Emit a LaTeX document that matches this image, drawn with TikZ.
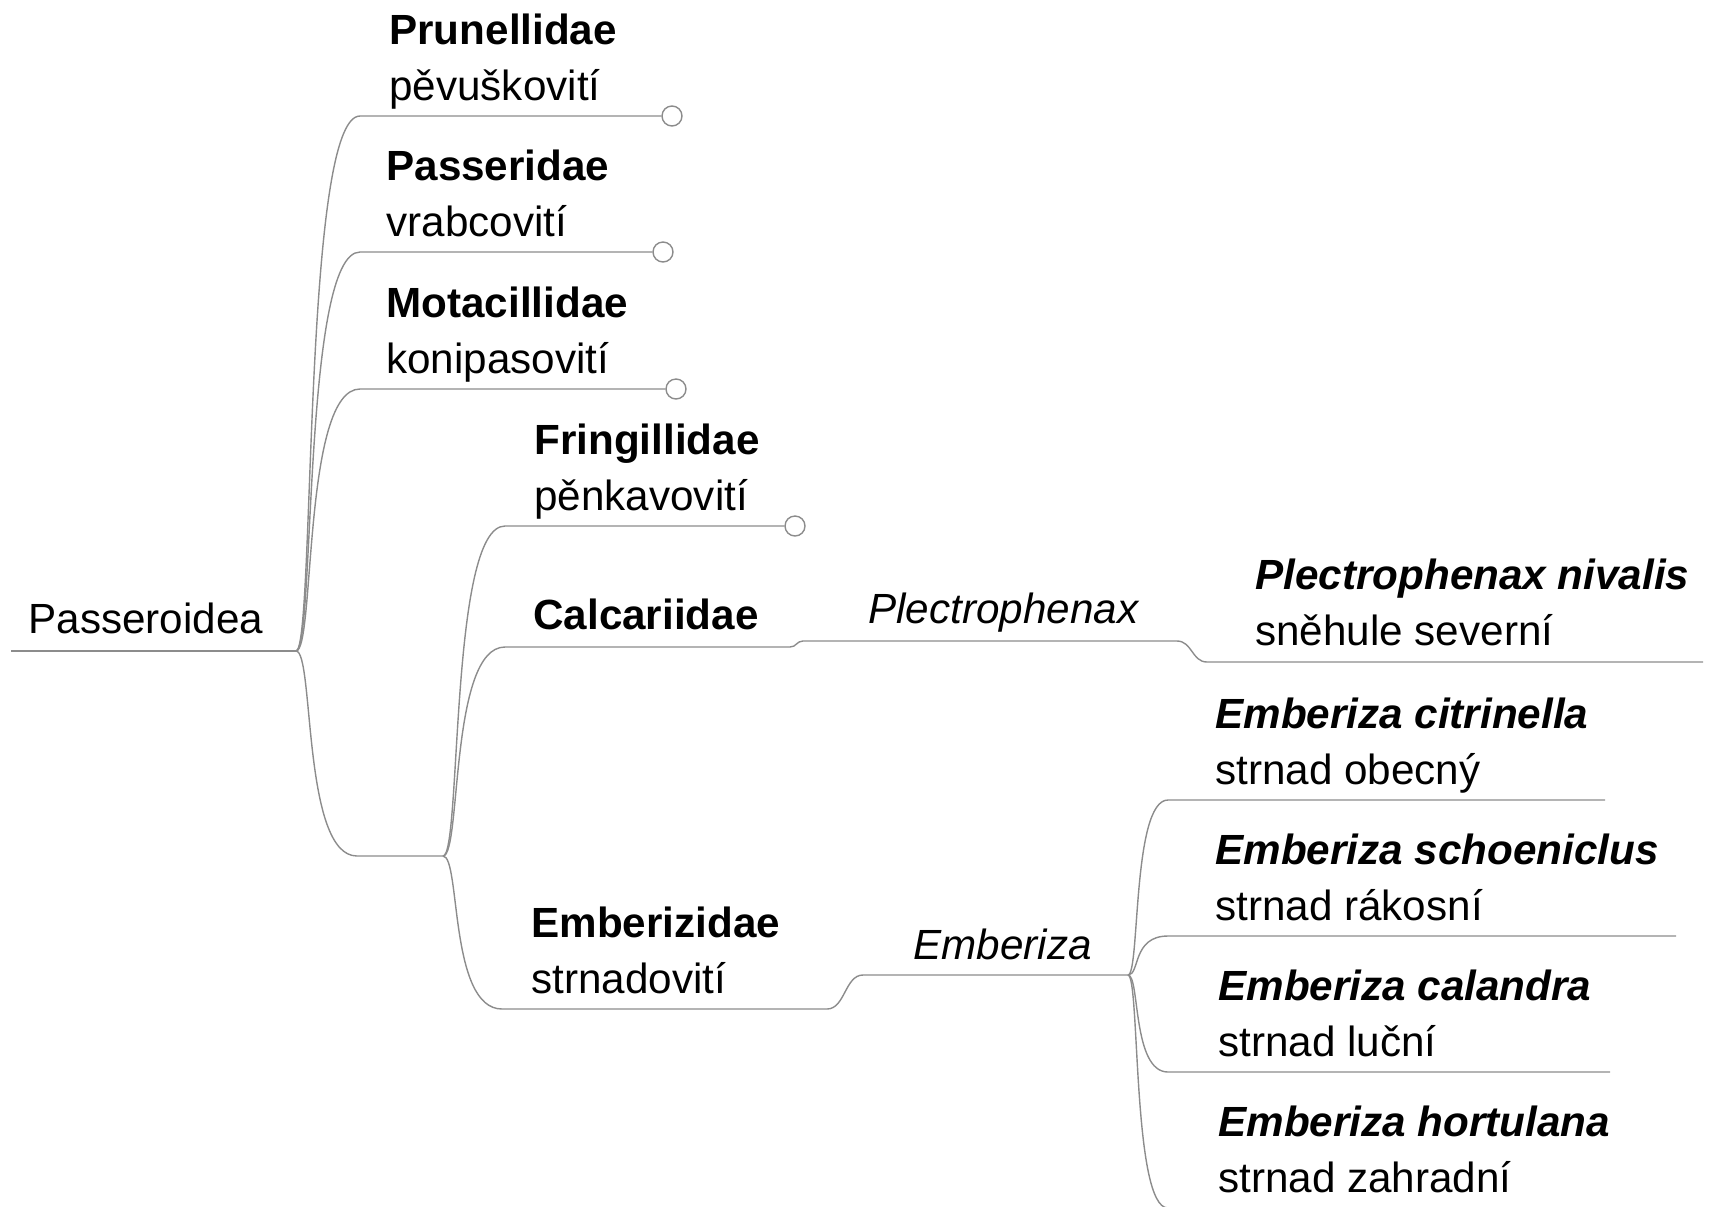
\documentclass[tikz,border=0pt]{standalone}
\usepackage{fontspec}
\setmainfont{Liberation Sans}
\usetikzlibrary{positioning}
\definecolor{branchgray}{RGB}{140,140,140}

\begin{document}
\begin{tikzpicture}[
    x=0.5pt, y=-0.5pt,
    taxon/.style={anchor=base west, inner sep=0pt, align=left, font=\fontsize{21.1}{27.75}\selectfont},
    twig/.style={draw=branchgray, line width=0.7pt},
    leafcirc/.style={circle, draw=branchgray, line width=0.7pt, fill=white, inner sep=0pt, minimum size=10pt},
    fork/.style={to path={.. controls +(0.3*#1,0) and +(-0.9*#1,0) .. (\tikztotarget)}},
    jog/.style={to path={.. controls +(0.5*#1,0) and +(-0.5*#1,0) .. (\tikztotarget)}}
]
    \useasboundingbox (0,0) rectangle (1712,1206);

    % koren
    \coordinate (rootL) at (11,651);
    \coordinate (j1) at (296,651);
    \node[taxon] (passeroidea) at (28,633) {Passeroidea};
    \draw[twig] (rootL) -- (j1);

    % horni celedi (uzel je ukotven na posledni radce)
    \foreach \id/\y/\cx in {pru/116/672, pas/252/663, mot/389/676} {
        \coordinate (\id S) at (360,\y);
        \node[leafcirc] (\id O) at (\cx,\y) {};
        \draw[twig] (j1) to[fork=64] (\id S) -- (\id O);
    }
    \node[taxon] (pru) at (389,100) {\textbf{Prunellidae}\\pěvuškovití};
    \node[taxon] (pas) at (386,236) {\textbf{Passeridae}\\vrabcovití};
    \node[taxon] (mot) at (386,373) {\textbf{Motacillidae}\\konipasovití};

    % spodni vetev
    \coordinate (lowS) at (357,856);
    \coordinate (j2) at (443,856);
    \draw[twig] (j1) to[fork=61] (lowS) -- (j2);

    \coordinate (friS) at (505,526);
    \node[leafcirc] (friO) at (795,526) {};
    \node[taxon] (fri) at (534,510) {\textbf{Fringillidae}\\pěnkavovití};
    \draw[twig] (j2) to[fork=62] (friS) -- (friO);

    % Calcariidae -> Plectrophenax
    \coordinate (calS) at (505,647);
    \coordinate (calE) at (790,647);
    \coordinate (plecS) at (803,641);
    \coordinate (plecE) at (1177,641);
    \coordinate (nivS) at (1207,662);
    \coordinate (nivE) at (1703,662);
    \node[taxon] (cal) at (533,629) {\textbf{Calcariidae}};
    \node[taxon] (plec) at (868,623) {\textit{Plectrophenax}};
    \node[taxon] (niv) at (1255,645) {\textbf{\textit{Plectrophenax nivalis}}\\sněhule severní};
    \draw[twig] (j2) to[fork=62] (calS) -- (calE) to[jog=13] (plecS) -- (plecE)
        to[jog=30] (nivS) -- (nivE);

    % Emberizidae -> Emberiza
    \coordinate (embS) at (502,1009);
    \coordinate (embE) at (827,1009);
    \coordinate (emzS) at (863,975);
    \coordinate (j3) at (1128,975);
    \node[taxon] (emb) at (531,993) {\textbf{Emberizidae}\\strnadovití};
    \node[taxon] (emz) at (913,959) {\textit{Emberiza}};
    \draw[twig] (j2) to[fork=59] (embS) -- (embE) to[jog=36] (emzS) -- (j3);

    % druhy
    \foreach \id/\y/\xe in {cit/800/1605, sch/936/1676, cala/1072/1610, hor/1208/1640} {
        \coordinate (\id S) at (1168,\y);
        \coordinate (\id E) at (\xe,\y);
        \draw[twig] (j3) to[fork=40] (\id S) -- (\id E);
    }
    \node[taxon] (cit) at (1215,784) {\textbf{\textit{Emberiza citrinella}}\\strnad obecný};
    \node[taxon] (sch) at (1215,920) {\textbf{\textit{Emberiza schoeniclus}}\\strnad rákosní};
    \node[taxon] (cala) at (1218,1056) {\textbf{\textit{Emberiza calandra}}\\strnad luční};
    \node[taxon] (hor) at (1218,1192) {\textbf{\textit{Emberiza hortulana}}\\strnad zahradní};
\end{tikzpicture}
\end{document}
